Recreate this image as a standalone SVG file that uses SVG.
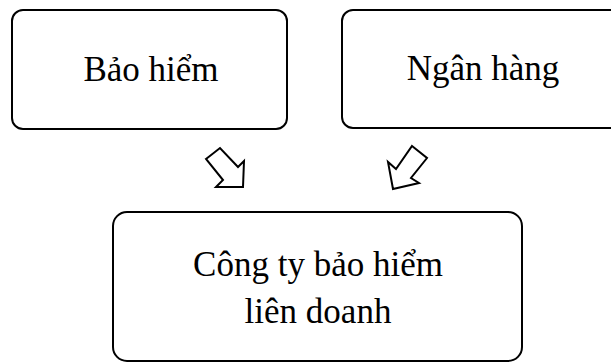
<svg xmlns="http://www.w3.org/2000/svg" width="611" height="363" viewBox="0 0 611 363">
<style>
.box{fill:#fff;stroke:#000;stroke-width:2}
.lbl{font-family:"Liberation Serif","Times New Roman",serif;font-size:35px;fill:#000;text-anchor:middle}
.arr{fill:#fff;stroke:#000;stroke-width:2;stroke-linejoin:miter}
</style>
<rect width="611" height="363" fill="#fff"/>
<g id="node-bao-hiem">
<rect class="box" x="12" y="10" width="275" height="119" rx="11"/>
<text class="lbl" x="151" y="81">Bảo hiểm</text>
</g>
<g id="node-ngan-hang">
<rect class="box" x="342" y="10" width="280" height="118" rx="11"/>
<text class="lbl" x="483" y="80">Ngân hàng</text>
</g>
<g id="node-cong-ty">
<rect class="box" x="113" y="212" width="409" height="149" rx="14"/>
<text class="lbl" x="318" y="276">Công ty bảo hiểm</text>
<text class="lbl" x="318" y="323">liên doanh</text>
</g>
<g id="connectors">
<polygon class="arr" points="206,159 220,148 238,167 244,161 243,187 216,187 223,180"/>
<polygon class="arr" points="412,146 427,158 411,178 419,183 393,189 388,162 396,169"/>
</g>
</svg>
